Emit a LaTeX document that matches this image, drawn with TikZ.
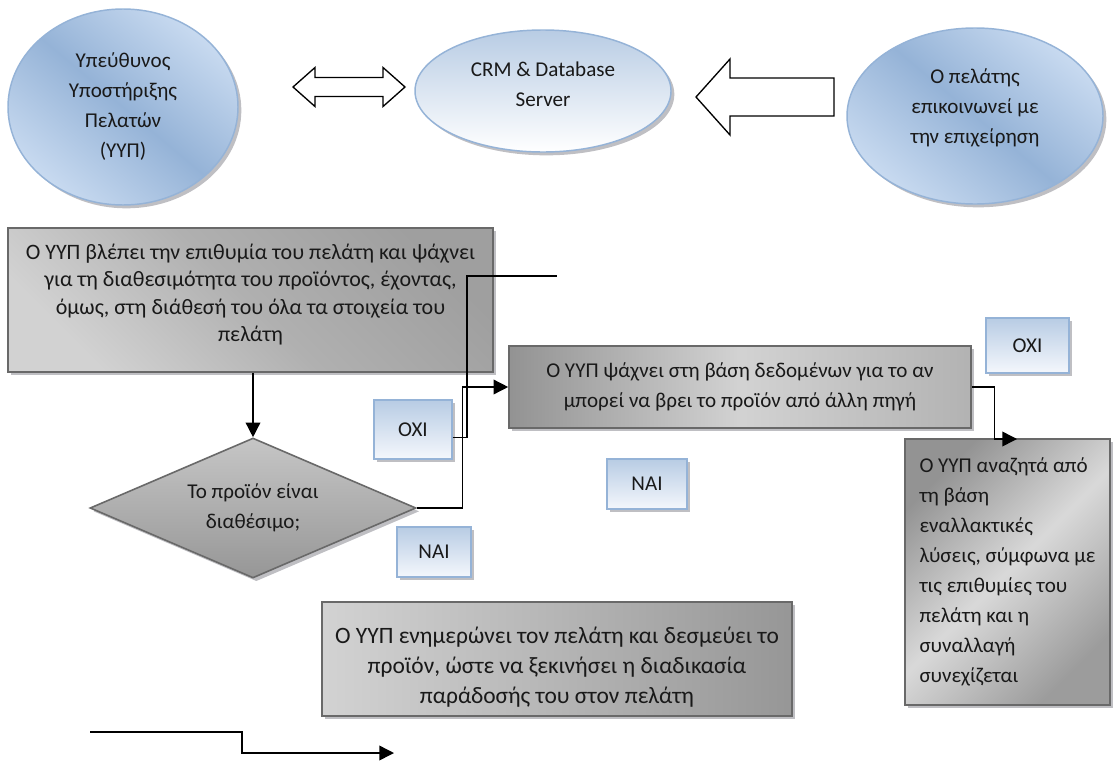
\documentclass[tikz,border=0pt]{standalone}
\usepackage{fontspec}
\setmainfont{Carlito}
\usepackage{tikz}
\usetikzlibrary{shapes.geometric, arrows.meta, positioning, calc, shadows}
\definecolor{bleuCiel}{RGB}{149, 179, 215}
\definecolor{bleuPale}{RGB}{200, 218, 240}
\definecolor{bleuTete}{RGB}{184, 204, 228}
\definecolor{bleuBlanc}{RGB}{244, 247, 252}
\definecolor{griBord}{RGB}{105, 105, 105}
\definecolor{griOmbre}{RGB}{180, 180, 185}
\definecolor{texteNoir}{RGB}{25, 25, 25}

\begin{document}
\begin{tikzpicture}[x=0.75pt, y=-0.75pt,
  every node/.style={font=\fontsize{15.8}{22.5}\selectfont, text=texteNoir},
  taille/.style 2 args={minimum width=#1*0.75pt, minimum height=#2*0.75pt},
  ombre/.style={drop shadow={shadow xshift=2.5pt, shadow yshift=-2.5pt,
    fill=griOmbre, opacity=.85}},
  bulle/.style={ellipse, draw=bleuCiel, line width=1.1pt, align=center,
    inner sep=0pt, ombre, top color=bleuPale, bottom color=bleuPale,
    middle color=bleuCiel, shading angle=-40},
  serveur/.style={ellipse, draw=bleuCiel, line width=1.1pt, align=center,
    inner sep=0pt, ombre, top color=bleuTete, bottom color=white},
  gris/.style={rectangle, draw=griBord, line width=1.2pt, align=center,
    inner sep=0pt, ombre},
  choix/.style={rectangle, draw=bleuCiel, line width=1.1pt, inner sep=0pt,
    ombre, top color=bleuTete, bottom color=bleuBlanc},
  bloc/.style={draw=black, line width=1pt, fill=white},
  arr/.style={-{Triangle[length=11pt, width=11pt]}, line width=1.1pt},
  ligne/.style={line width=1.1pt},
]
\useasboundingbox (0,0) rectangle (1119,760);
% acteurs
\node[bulle, taille={230}{196}] (yyp) at (123,107)
  {Υπεύθυνος\\Υποστήριξης\\Πελατών\\(ΥΥΠ)};
\node[serveur, taille={256}{122}, text depth=10.5pt] (crm) at (543,91)
  {CRM \& Database\\Server};
\node[bulle, taille={256}{176}, text depth=14.4pt] (client) at (975,116)
  {Ο πελάτης\\επικοινωνεί με\\την επιχείρηση};
\draw[bloc] (293,87) -- (315,67.5) -- (315,77.5) -- (383,77.5) -- (383,67.5)
  -- (405,87) -- (383,106.5) -- (383,96.5) -- (315,96.5) -- (315,106.5) -- cycle;
\draw[bloc] (696,97) -- (730,59) -- (730,78) -- (834,78) -- (834,116)
  -- (730,116) -- (730,135) -- cycle;
% ροή
\node[gris, taille={485}{144}, font=\fontsize{16.5}{20.5}\selectfont,
  text depth=10.7pt, top color=gray!75, bottom color=gray!35,
  middle color=gray!62, shading angle=-45] (voit) at (250.5,300)
  {Ο ΥΥΠ βλέπει την επιθυμία του πελάτη και ψάχνει\\για τη διαθεσιμότητα του προϊόντος, έχοντας,\\όμως, στη διάθεσή του όλα τα στοιχεία του\\πελάτη};
\node[diamond, draw=griBord, line width=1.2pt, align=center, inner sep=0pt,
  aspect=2.33, taille={326}{140}, ombre, top color=gray!45,
  bottom color=gray!82] (dispo) at (253,508) {Το προϊόν είναι\\διαθέσιμο;};
\node[gris, taille={462}{82}, left color=gray!85, right color=gray!60,
  middle color=gray!35] (cherche) at (740,387)
  {Ο ΥΥΠ ψάχνει στη βάση δεδομένων για το αν\\μπορεί να βρει το προϊόν από άλλη πηγή};
\node[gris, taille={205}{266}, align=left, top color=gray!85,
  bottom color=gray!78, middle color=gray!30, shading angle=45] (altern)
  at (1007.5,572)
  {Ο ΥΥΠ αναζητά από\\τη βάση\\εναλλακτικές\\λύσεις, σύμφωνα με\\τις επιθυμίες του\\πελάτη και η\\συναλλαγή\\συνεχίζεται};
\node[gris, taille={470}{114}, font=\fontsize{17.6}{22.5}\selectfont,
  text height=70pt, left color=gray!35, right color=gray!82,
  middle color=gray!58] (informe) at (557,659)
  {Ο ΥΥΠ ενημερώνει τον πελάτη και δεσμεύει το\\προϊόν, ώστε να ξεκινήσει η διαδικασία\\παράδοσής του στον πελάτη};
% ετικέτες
\node[choix, taille={78}{59}] (oxiG) at (413,429.5) {ΟΧΙ};
\node[choix, taille={74}{50}] (naiG) at (434,552) {ΝΑΙ};
\node[choix, taille={80}{50}] (naiM) at (647,484) {ΝΑΙ};
\node[choix, taille={83}{55}] (oxiD) at (1027.5,345.5) {ΟΧΙ};
% σύνδεσμοι
\coordinate (coudeB) at (467,276);
\coordinate (finB) at (557,276);
\coordinate (finC) at (1017,439);
\coordinate (debD) at (90,732);
\coordinate (finD) at (394,753);
\draw[arr] (voit.south -| dispo.north) -- (dispo.north);
\draw[arr] (dispo.east) -| ($(dispo.east)!.5!(cherche.west)$) |- (cherche.west);
\draw[ligne] ([yshift=-6pt]oxiG.east) -| (coudeB) -- (finB);
\draw[arr] (cherche.east) -| ($(cherche.east)!.5!(finC)$) |- (finC);
\draw[arr] (debD) -| ($(debD)!.5!(finD)$) |- (finD);
\end{tikzpicture}
\end{document}
